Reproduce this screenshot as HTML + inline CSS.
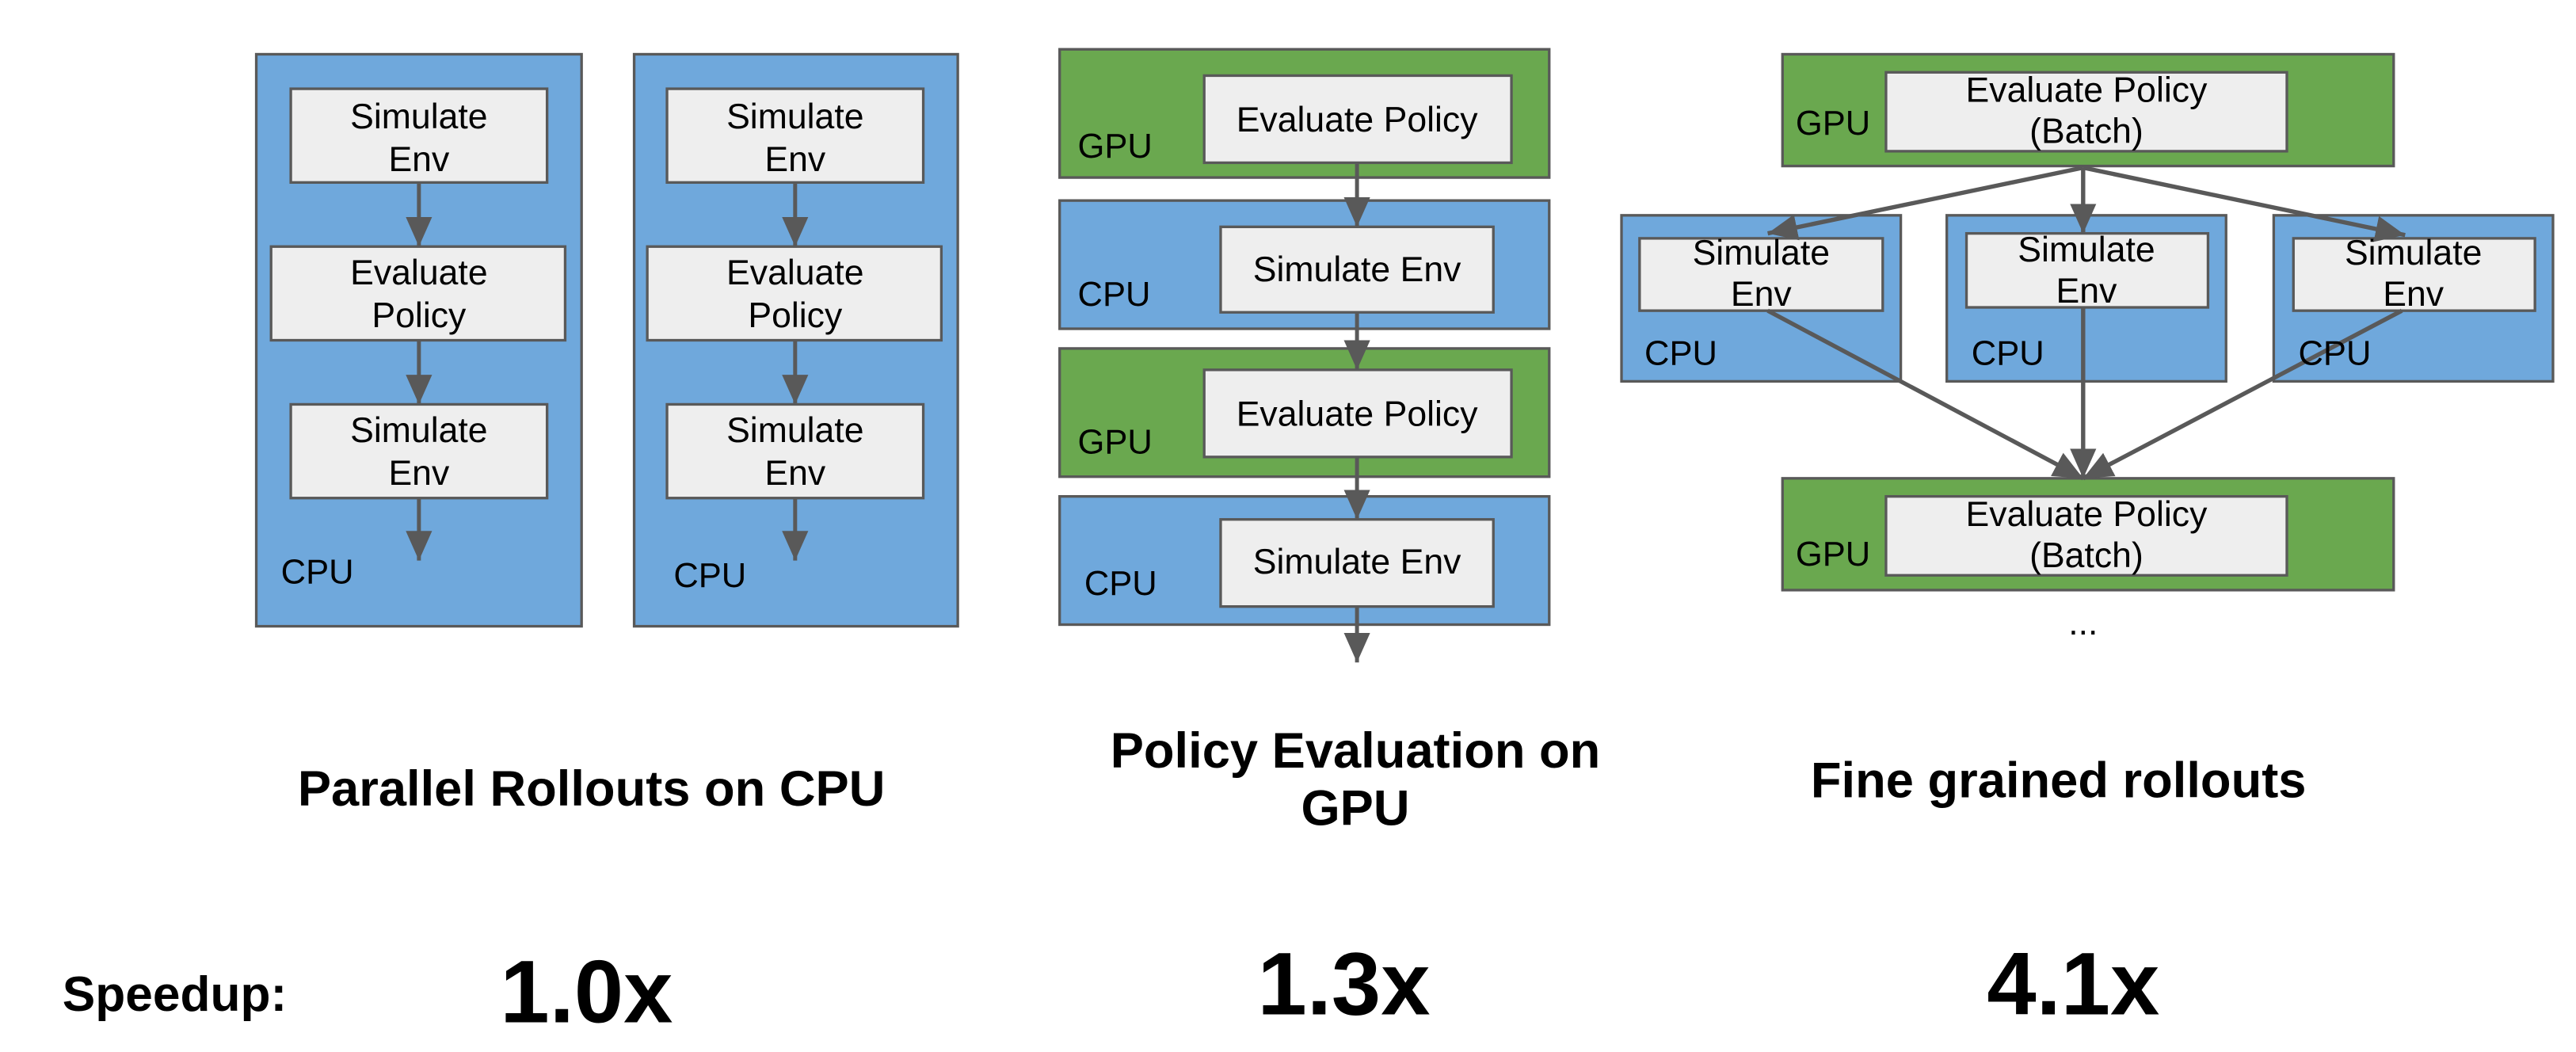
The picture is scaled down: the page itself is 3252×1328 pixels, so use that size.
<!DOCTYPE html>
<html><head><meta charset="utf-8"><style>
html,body{margin:0;padding:0;background:#fff;}
svg{display:block;}
text{font-family:"Liberation Sans",Arial,sans-serif;fill:#000;}
</style></head><body>
<svg width="3252" height="1328" viewBox="0 0 1568 640" preserveAspectRatio="none" xmlns="http://www.w3.org/2000/svg">
<defs>
<marker id="ah" viewBox="0 0 18 16" refX="18" refY="8" markerWidth="18" markerHeight="16" orient="auto" markerUnits="userSpaceOnUse">
<path d="M0,0 L18,8 L0,16 z" fill="#595959"/></marker>
</defs>
<g stroke="#595959" stroke-width="1.6">
<rect x="156" y="33" width="198" height="348" fill="#6fa8dc"/>
<rect x="386" y="33" width="197" height="348" fill="#6fa8dc"/>
<rect x="177" y="54" width="156" height="57" fill="#eeeeee"/>
<rect x="165" y="150" width="179" height="57" fill="#eeeeee"/>
<rect x="177" y="246" width="156" height="57" fill="#eeeeee"/>
<rect x="406" y="54" width="156" height="57" fill="#eeeeee"/>
<rect x="394" y="150" width="179" height="57" fill="#eeeeee"/>
<rect x="406" y="246" width="156" height="57" fill="#eeeeee"/>
<rect x="645" y="30" width="298" height="78" fill="#6aa84f"/>
<rect x="645" y="122" width="298" height="78" fill="#6fa8dc"/>
<rect x="645" y="212" width="298" height="78" fill="#6aa84f"/>
<rect x="645" y="302" width="298" height="78" fill="#6fa8dc"/>
<rect x="733" y="46" width="187" height="53" fill="#eeeeee"/>
<rect x="743" y="138" width="166" height="52" fill="#eeeeee"/>
<rect x="733" y="225" width="187" height="53" fill="#eeeeee"/>
<rect x="743" y="316" width="166" height="53" fill="#eeeeee"/>
<rect x="1085" y="33" width="372" height="68" fill="#6aa84f"/>
<rect x="1148" y="44" width="244" height="48" fill="#eeeeee"/>
<rect x="987" y="131" width="170" height="101" fill="#6fa8dc"/>
<rect x="1185" y="131" width="170" height="101" fill="#6fa8dc"/>
<rect x="1384" y="131" width="170" height="101" fill="#6fa8dc"/>
<rect x="998" y="145" width="148" height="44" fill="#eeeeee"/>
<rect x="1197" y="142" width="147" height="45" fill="#eeeeee"/>
<rect x="1396" y="145" width="147" height="44" fill="#eeeeee"/>
<rect x="1085" y="291" width="372" height="68" fill="#6aa84f"/>
<rect x="1148" y="302" width="244" height="48" fill="#eeeeee"/>
</g>
<g stroke="#595959" stroke-width="2.4" fill="none" marker-end="url(#ah)">
<line x1="255" y1="111" x2="255" y2="150"/>
<line x1="255" y1="207" x2="255" y2="246"/>
<line x1="255" y1="303" x2="255" y2="341"/>
<line x1="484" y1="111" x2="484" y2="150"/>
<line x1="484" y1="207" x2="484" y2="246"/>
<line x1="484" y1="303" x2="484" y2="341"/>
<line x1="826" y1="99" x2="826" y2="138"/>
<line x1="826" y1="190" x2="826" y2="225"/>
<line x1="826" y1="278" x2="826" y2="316"/>
<line x1="826" y1="369" x2="826" y2="403"/>
</g>
<g stroke="#595959" stroke-width="2.6" fill="none" marker-end="url(#ah)">
<line x1="1268" y1="102" x2="1076" y2="142"/>
<line x1="1268" y1="102" x2="1268" y2="142"/>
<line x1="1268" y1="102" x2="1464" y2="143"/>
<line x1="1076" y1="189" x2="1268" y2="291"/>
<line x1="1268" y1="187" x2="1268" y2="291"/>
<line x1="1462" y1="189" x2="1268" y2="291"/>
</g>
<g font-size="21.5" text-anchor="middle">
<text x="255" y="78">Simulate</text><text x="255" y="104">Env</text>
<text x="255" y="173">Evaluate</text><text x="255" y="199">Policy</text>
<text x="255" y="269">Simulate</text><text x="255" y="295">Env</text>
<text x="484" y="78">Simulate</text><text x="484" y="104">Env</text>
<text x="484" y="173">Evaluate</text><text x="484" y="199">Policy</text>
<text x="484" y="269">Simulate</text><text x="484" y="295">Env</text>
<text x="826" y="80">Evaluate Policy</text>
<text x="826" y="171">Simulate Env</text>
<text x="826" y="259">Evaluate Policy</text>
<text x="826" y="349">Simulate Env</text>
<text x="1270" y="62">Evaluate Policy</text><text x="1270" y="87">(Batch)</text>
<text x="1072" y="161">Simulate</text><text x="1072" y="186">Env</text>
<text x="1270" y="159">Simulate</text><text x="1270" y="184">Env</text>
<text x="1469" y="161">Simulate</text><text x="1469" y="186">Env</text>
<text x="1270" y="320">Evaluate Policy</text><text x="1270" y="345">(Batch)</text>
<text x="1268" y="386">...</text>
</g>
<g font-size="21">
<text x="171" y="355">CPU</text>
<text x="410" y="357">CPU</text>
<text x="656" y="96">GPU</text>
<text x="656" y="186">CPU</text>
<text x="656" y="276">GPU</text>
<text x="660" y="362">CPU</text>
<text x="1093" y="82">GPU</text>
<text x="1001" y="222">CPU</text>
<text x="1200" y="222">CPU</text>
<text x="1399" y="222">CPU</text>
<text x="1093" y="344">GPU</text>
</g>
<g font-weight="bold" text-anchor="middle" font-size="30.5">
<text x="360" y="490">Parallel Rollouts on CPU</text>
<text x="825" y="467">Policy Evaluation on</text>
<text x="825" y="502">GPU</text>
<text x="1253" y="485">Fine grained rollouts</text>
</g>
<text x="38" y="615" font-weight="bold" font-size="30">Speedup:</text>
<g font-weight="bold" text-anchor="middle" font-size="54">
<text x="357" y="622">1.0x</text>
<text x="818" y="617">1.3x</text>
<text x="1262" y="617">4.1x</text>
</g>
</svg>
</body></html>
